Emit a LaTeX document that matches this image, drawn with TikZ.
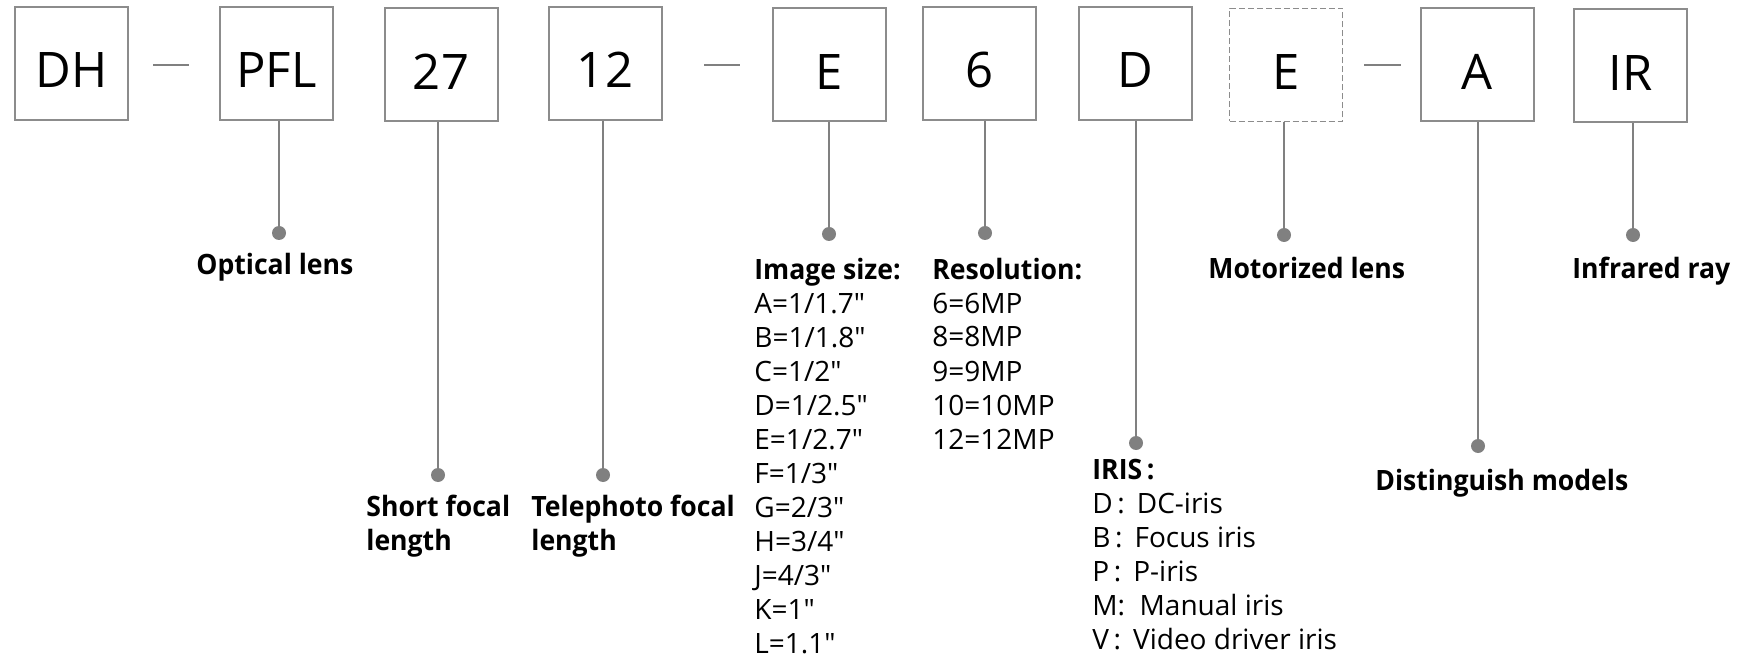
\documentclass[tikz,border=0pt]{standalone}
\usepackage{fontspec}
\setmainfont{Open Sans}[Ligatures=TeXOff, BoldFeatures={FakeStretch=0.95}]
\usetikzlibrary{positioning}

\definecolor{framegray}{RGB}{140,140,140}
\definecolor{leadgray}{RGB}{128,128,128}

\begin{document}
\begin{tikzpicture}[x=0.5pt, y=-0.5pt,
		codebox/.style={draw=framegray, line width=1pt, minimum size=56.5pt, inner sep=0pt, text height=24.5pt, text depth=0pt, font=\fontsize{24.5}{29}\selectfont},
		optbox/.style={codebox, line width=0.8pt, dash pattern=on 3pt off 1.5pt},
		lead/.style={draw=leadgray, line width=1pt},
		pin/.style={circle, fill=leadgray, inner sep=0pt, minimum size=7pt},
		sep/.style={draw=leadgray, line width=0.75pt},
		label/.style={anchor=base west, inner sep=0pt, align=left, font=\fontsize{14}{17}\selectfont}]
	\useasboundingbox (0,0) rectangle (1738,657);
	
	% code boxes
	\node[codebox] (DH) at (71.5,63.5) {DH};
	\node[codebox] (PFL) at (276.5,63.5) {PFL};
	\node[codebox] (short) at (441,65) {27};
	\node[codebox] (tele) at (605,63.5) {12};
	\node[codebox] (size) at (829.5,65) {E};
	\node[codebox] (res) at (979.5,63.5) {6};
	\node[codebox] (iris) at (1135.5,63.5) {D};
	\node[optbox] (motor) at (1286,65) {E};
	\node[codebox] (model) at (1477,65) {A};
	\node[codebox] (IR) at (1630.5,66) {IR};
	
	% separators
	\coordinate (S1) at (153,65);
	\coordinate (S2) at (704,65);
	\coordinate (S3) at (1364,65);
	\draw[sep] (S1) -- ++(36,0);
	\draw[sep] (S2) -- ++(36,0);
	\draw[sep] (S3) -- ++(37,0);
	
	% pins
	\node[pin] (PFLp) at (279,233) {};
	\node[pin] (shortp) at (438,475) {};
	\node[pin] (telep) at (603,475) {};
	\node[pin] (sizep) at (829,234) {};
	\node[pin] (resp) at (985,233) {};
	\node[pin] (irisp) at (1136,443) {};
	\node[pin] (motorp) at (1284,235) {};
	\node[pin] (modelp) at (1478,446) {};
	\node[pin] (IRp) at (1633,235) {};
	
	\draw[lead] (PFLp |- PFL.south) -- (PFLp);
	\draw[lead] (shortp |- short.south) -- (shortp);
	\draw[lead] (telep |- tele.south) -- (telep);
	\draw[lead] (sizep |- size.south) -- (sizep);
	\draw[lead] (resp |- res.south) -- (resp);
	\draw[lead] (irisp |- iris.south) -- (irisp);
	\draw[lead] (motorp |- motor.south) -- (motorp);
	\draw[lead] (modelp |- model.south) -- (modelp);
	\draw[lead] (IRp |- IR.south) -- (IRp);
	
	% labels (anchored at the baseline of the last line)
	\node[label] (PFLt) at (196,275) {\textbf{Optical lens}};
	\node[label] (shortt) at (366,550) {\textbf{Short focal}\\\textbf{length}};
	\node[label] (telet) at (531,550) {\textbf{Telephoto focal}\\\textbf{length}};
	\node[label] (sizet) at (754,653) {\textbf{Image size:}\\A=1/1.7"\\B=1/1.8"\\C=1/2"\\D=1/2.5"\\E=1/2.7"\\F=1/3"\\G=2/3"\\H=3/4"\\J=4/3"\\K=1"\\L=1.1"};
	\node[label] (rest) at (932,449) {\textbf{Resolution:}\\6=6MP\\8=8MP\\9=9MP\\10=10MP\\12=12MP};
	\node[label] (irist) at (1092,649) {\textbf{IRIS\,:}\\D\,:\, DC-iris\\B\,:\, Focus iris\\P\,:\, P-iris\\M:\ \ Manual iris\\V\,:\, Video driver iris};
	\node[label] (motort) at (1208,279) {\textbf{Motorized lens}};
	\node[label] (modelt) at (1375,490) {\textbf{Distinguish models}};
	\node[label] (IRt) at (1572,279) {\textbf{Infrared ray}};
\end{tikzpicture}
\end{document}
